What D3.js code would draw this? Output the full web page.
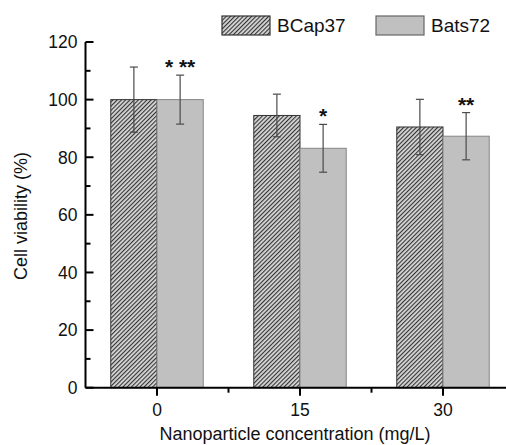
<!DOCTYPE html>
<html><head><meta charset="utf-8">
<script src="https://cdn.jsdelivr.net/npm/d3@7"></script>
<style>
html,body{margin:0;padding:0;background:#fff;}
svg{display:block;font-family:"Liberation Sans",Arial,sans-serif;}
</style></head>
<body><svg id="c" width="506" height="445"></svg>
<script>
const concentrations = [0, 15, 30];
const seriesNames = ["BCap37", "Bats72"];
const bcap37 = [100, 94.5, 90.5];
const bcap37Err = [11.3, 7.4, 9.6];
const bats72 = [100, 83.1, 87.3];
const bats72Err = [8.5, 8.3, 8.2];
const significance = ["* **", "*", "**"];
const yTicks = [0, 20, 40, 60, 80, 100, 120];

const svg = d3.select("#c");
const defs = svg.append("defs");
const pat = defs.append("pattern").attr("id","hatch").attr("patternUnits","userSpaceOnUse")
  .attr("width",3).attr("height",3).attr("patternTransform","rotate(45)");
pat.append("rect").attr("width",3).attr("height",3).attr("fill","#d6d6d6");
pat.append("rect").attr("width",1.1).attr("height",3).attr("fill","#333");

const x = d3.scaleLinear().domain([-7.5, 37.5]).range([85.5, 514.5]);
const y = d3.scaleLinear().domain([0, 120]).range([387.7, 42]);
const half = 4.85;

const series = [
  {name: seriesNames[0], vals: bcap37, err: bcap37Err, off: -half, fill: "url(#hatch)", stroke: "#333"},
  {name: seriesNames[1], vals: bats72, err: bats72Err, off: 0, fill: "#c0c0c0", stroke: "#858585"}
];

series.forEach(s => {
  svg.append("g").selectAll("rect").data(concentrations).join("rect")
    .attr("x", (d) => x(d + s.off))
    .attr("y", (d,i) => y(s.vals[i]))
    .attr("width", x(half) - x(0))
    .attr("height", (d,i) => y(0) - y(s.vals[i]))
    .attr("fill", s.fill).attr("stroke", s.stroke).attr("stroke-width", 1);
});

// error bars
series.forEach(s => {
  const g = svg.append("g").attr("stroke", "#4a4a4a").attr("stroke-width", 1.2);
  concentrations.forEach((c,i) => {
    const cx = x(c + s.off + half/2);
    const t = y(s.vals[i] + s.err[i]), b = y(s.vals[i] - s.err[i]);
    g.append("line").attr("x1",cx).attr("x2",cx).attr("y1",t).attr("y2",b);
    g.append("line").attr("x1",cx-4).attr("x2",cx+4).attr("y1",t).attr("y2",t);
    g.append("line").attr("x1",cx-4).attr("x2",cx+4).attr("y1",b).attr("y2",b);
  });
});

// significance stars
svg.append("g").selectAll("text").data(concentrations).join("text")
  .attr("x", d => x(d + half/2))
  .attr("y", (d,i) => y(bats72[i] + bats72Err[i]) - 1)
  .attr("text-anchor","middle").attr("font-size", 21).attr("font-weight","bold")
  .attr("fill","#111")
  .text((d,i) => significance[i]);

// y axis
const yAxis = svg.append("g").attr("transform", `translate(${x(-7.5)},0)`);
yAxis.append("line").attr("x1",0).attr("x2",0).attr("y1",y(0)).attr("y2",y(120)).attr("stroke","#000").attr("stroke-width",2);
yAxis.selectAll("line.maj").data(yTicks).join("line").attr("class","maj")
  .attr("x1",0).attr("x2",8).attr("y1",d=>y(d)).attr("y2",d=>y(d)).attr("stroke","#000").attr("stroke-width",2);
yAxis.selectAll("line.min").data(d3.range(10,120,20)).join("line").attr("class","min")
  .attr("x1",0).attr("x2",5).attr("y1",d=>y(d)).attr("y2",d=>y(d)).attr("stroke","#000").attr("stroke-width",2);
yAxis.selectAll("text").data(yTicks).join("text")
  .attr("x",-8).attr("y",d=>y(d)).attr("dy","0.36em").attr("text-anchor","end")
  .attr("font-size",17.5).attr("fill","#111").text(d=>d);

// x axis
const xAxis = svg.append("g").attr("transform", `translate(0,${y(0)})`);
xAxis.append("line").attr("x1",x(-7.5)).attr("x2",x(37.5)).attr("y1",0).attr("y2",0).attr("stroke","#000").attr("stroke-width",2);
xAxis.selectAll("line.maj").data(concentrations).join("line").attr("class","maj")
  .attr("x1",d=>x(d)).attr("x2",d=>x(d)).attr("y1",0).attr("y2",8).attr("stroke","#000").attr("stroke-width",2);
xAxis.selectAll("line.min").data([7.5,22.5]).join("line").attr("class","min")
  .attr("x1",d=>x(d)).attr("x2",d=>x(d)).attr("y1",0).attr("y2",5).attr("stroke","#000").attr("stroke-width",2);
xAxis.selectAll("text").data(concentrations).join("text")
  .attr("x",d=>x(d)).attr("y",28).attr("text-anchor","middle")
  .attr("font-size",17.5).attr("fill","#111").text(d=>d);

svg.append("text").attr("x",295).attr("y",440).attr("text-anchor","middle")
  .attr("font-size",18).attr("fill","#111").text("Nanoparticle concentration (mg/L)");
svg.append("text").attr("transform","translate(27,216) rotate(-90)").attr("text-anchor","middle")
  .attr("font-size",18).attr("fill","#111").text("Cell viability (%)");

// legend
const leg = [{x:222, tx:277}, {x:376, tx:431}];
series.forEach((s,i) => {
  svg.append("rect").attr("x",leg[i].x).attr("y",16).attr("width",48).attr("height",19)
    .attr("fill", s.fill).attr("stroke", i===0 ? "#333" : "#666").attr("stroke-width",1.2);
  svg.append("text").attr("x",leg[i].tx).attr("y",32).attr("font-size",19).attr("fill","#111").text(s.name);
});
</script></body></html>
